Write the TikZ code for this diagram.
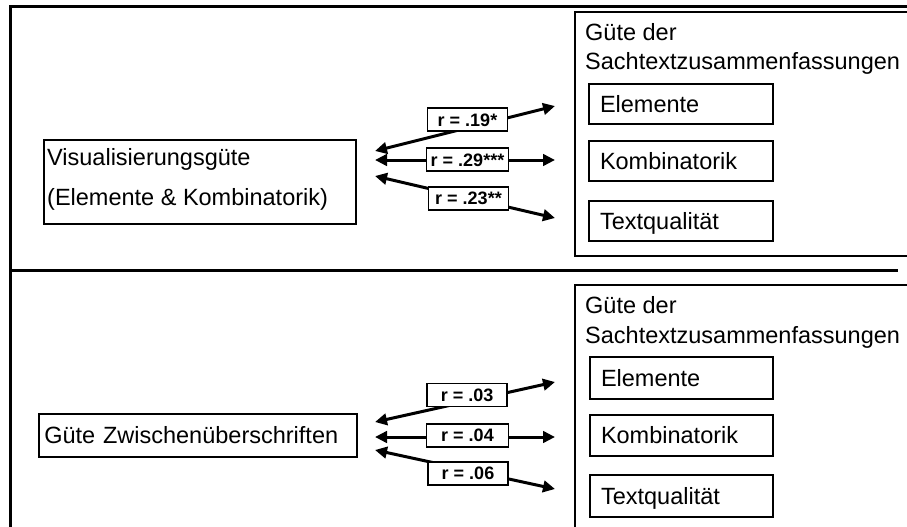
\documentclass[tikz,border=0pt]{standalone}
\usepackage{fontspec}
\setmainfont{Liberation Sans}
\usetikzlibrary{arrows.meta}
\begin{document}
\begin{tikzpicture}[x=1pt,y=-1pt,
  frameline/.style={line width=3pt},
  grp/.style={draw, line width=2pt, anchor=north west, inner sep=0pt},
  box/.style={draw, line width=2pt, anchor=north west, inner xsep=11pt, inner ysep=0pt,
    font=\fontsize{23.5}{28}\selectfont, text height=16.8pt, text depth=0pt, align=left},
  txt/.style={anchor=base west, inner sep=0pt, font=\fontsize{23.5}{28}\selectfont},
  rlab/.style={draw, line width=1.5pt, fill=white, inner sep=0pt, minimum width=80pt,
    minimum height=23pt, font=\bfseries\fontsize{18}{20}\selectfont,
    text height=12.9pt, text depth=0pt},
  link/.style={line width=3pt,
    {Triangle[length=12pt,width=11.5pt]}-{Triangle[length=12pt,width=11.5pt]}},
]
\clip (0,0) rectangle (907,527);

% outer frame and the rule between the two panels
\draw[frameline] (10,6.5) rectangle (930,560);
\draw[frameline] (10,270.5) -- (898,270.5);

% ---------- upper panel ----------
\node[draw, line width=2pt, anchor=north west, minimum width=312pt, minimum height=84pt] (vis) at (43,139) {};
\node[txt] (visA) at (47,165) {Visualisierungsgüte};
\node[txt] (visB) at (47,205) {(Elemente \& Kombinatorik)};

\node[grp, minimum width=360pt, minimum height=244pt] (grpA) at (574,11) {};
\node[txt] (gdA) at (585,41) {Güte der};
\node[txt] (sachA) at (585,70) {Sachtextzusammenfassungen};
\node[box, text width=162pt, minimum height=40pt] (elA) at (588,83) {Elemente};
\node[box, text width=162pt, minimum height=40pt] (komA) at (588,140) {Kombinatorik};
\node[box, text width=162pt, minimum height=40pt] (txqA) at (588,200) {Textqualität};

\coordinate (a1l) at (375,151); \coordinate (a1r) at (555,106);
\coordinate (a2l) at (375,160); \coordinate (a2r) at (555,160);
\coordinate (a3l) at (375,176); \coordinate (a3r) at (555,218);
\draw[link] (a1l) -- (a1r);
\draw[link] (a2l) -- (a2r);
\draw[link] (a3l) -- (a3r);
\node[rlab] (r1) at (467.5,119.7) {r = .19*};
\node[rlab, minimum width=82pt] (r2) at (467.5,159.7) {r = .29***};
\node[rlab] (r3) at (468.5,198.5) {r = .23**};

% ---------- lower panel ----------
\node[box, inner xsep=5pt, text width=308pt, minimum height=42.4pt] (zw) at (38.3,413.3) {Güte Zwischenüberschriften};

\node[grp, minimum width=360pt, minimum height=300pt] (grpB) at (574,283.5) {};
\node[txt] (gdB) at (585,313) {Güte der};
\node[txt] (sachB) at (585,343) {Sachtextzusammenfassungen};
\node[box, text width=161pt, minimum height=41.7pt] (elB) at (589,356) {Elemente};
\node[box, text width=161pt, minimum height=41pt] (komB) at (589,414) {Kombinatorik};
\node[box, text width=161pt, minimum height=41.7pt] (txqB) at (589,474) {Textqualität};

\coordinate (b1l) at (375,422); \coordinate (b1r) at (555,382);
\coordinate (b2l) at (375,437); \coordinate (b2r) at (555,437);
\coordinate (b3l) at (375,450); \coordinate (b3r) at (555,489);
\draw[link] (b1l) -- (b1r);
\draw[link] (b2l) -- (b2r);
\draw[link] (b3l) -- (b3r);
\node[rlab] (r4) at (467.2,395) {r = .03};
\node[rlab, minimum width=82pt] (r5) at (467.5,435.5) {r = .04};
\node[rlab] (r6) at (468,473.3) {r = .06};
\end{tikzpicture}
\end{document}
